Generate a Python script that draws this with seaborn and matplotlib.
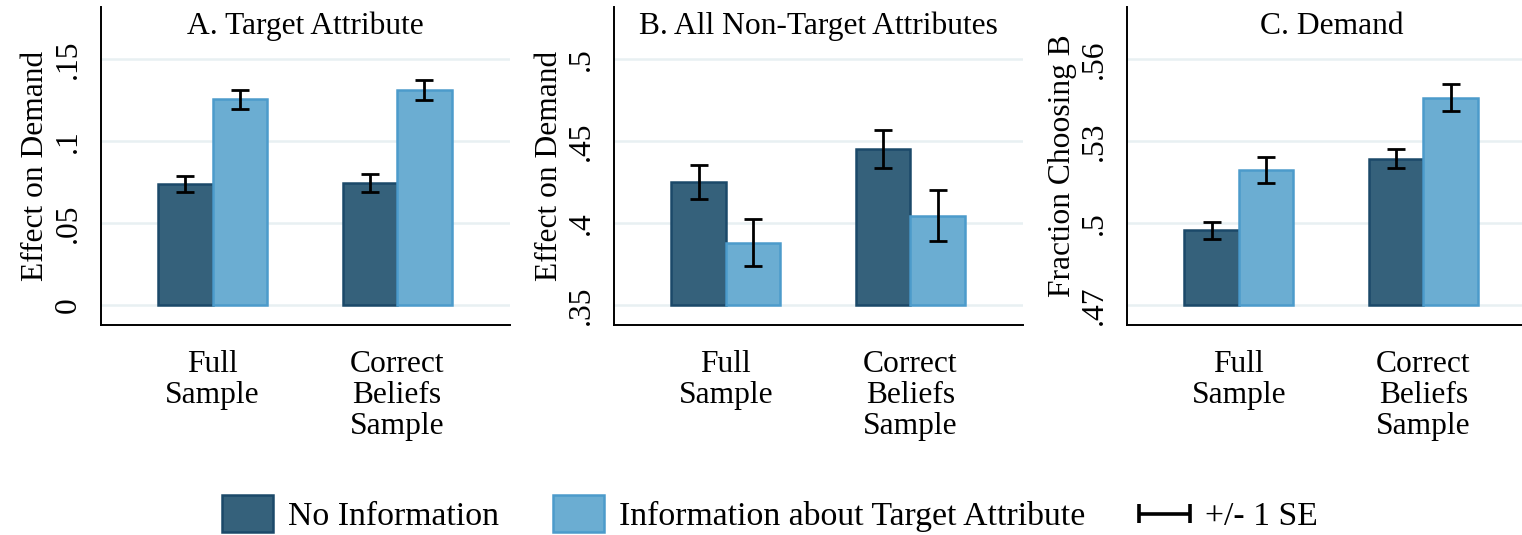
import numpy as np
import pandas as pd
import seaborn as sns
import matplotlib.pyplot as plt
from matplotlib.patches import Patch
from matplotlib.lines import Line2D
from matplotlib.legend_handler import HandlerBase
from matplotlib.ticker import FixedLocator, FixedFormatter

# ---- data -------------------------------------------------------------
samples = ["Full\nSample", "Correct\nBeliefs\nSample"]
groups = ["No Information", "Information about Target Attribute"]

# A. effect of the target attribute on demand
target_no_info = [0.0736, 0.0742]
target_info = [0.1254, 0.1313]
target_no_info_se = [0.0049, 0.0055]
target_info_se = [0.0056, 0.0061]

# B. effect of all non-target attributes on demand
nontarget_no_info = [0.4252, 0.4450]
nontarget_info = [0.3880, 0.4045]
nontarget_no_info_se = [0.0103, 0.0117]
nontarget_info_se = [0.0143, 0.0157]

# C. fraction choosing product B
demand_no_info = [0.4973, 0.5235]
demand_info = [0.5195, 0.5458]
demand_no_info_se = [0.0031, 0.0034]
demand_info_se = [0.0047, 0.0050]

titles = ["A. Target Attribute", "B. All Non-Target Attributes", "C. Demand"]
ylabels = ["Effect on Demand", "Effect on Demand", "Fraction Choosing B"]
ytick_values = [[0, 0.05, 0.1, 0.15], [0.35, 0.4, 0.45, 0.5], [0.47, 0.5, 0.53, 0.56]]
ytick_labels = [["0", ".05", ".1", ".15"], [".35", ".4", ".45", ".5"], [".47", ".5", ".53", ".56"]]

panels = [
    (target_no_info, target_info, target_no_info_se, target_info_se),
    (nontarget_no_info, nontarget_info, nontarget_no_info_se, nontarget_info_se),
    (demand_no_info, demand_info, demand_no_info_se, demand_info_se),
]

# ---- style ------------------------------------------------------------
sns.set_style("white")
plt.rcParams["font.family"] = ["Liberation Serif", "DejaVu Serif"]
plt.rcParams["text.color"] = "black"

DARK, DARK_EDGE = "#35617B", "#1B4969"
LIGHT, LIGHT_EDGE = "#6BADD2", "#4C9BCB"
GRID = "#E8F0F2"
FS = 22.7

W, H = 1522, 535
fig = plt.figure(figsize=(W / 100, H / 100), dpi=100)
fig.patch.set_facecolor("white")

ax_lefts = [101, 614.3, 1127.3]
ax_w, ax_bottom, ax_top = 409, 325, 7
ylims = [(-0.0122, 0.1817), (0.3378, 0.5317), (0.4627, 0.5790)]

for i, (no_info, info, no_se, info_se) in enumerate(panels):
    ax = fig.add_axes([ax_lefts[i] / W, 1 - ax_bottom / H,
                       ax_w / W, (ax_bottom - ax_top) / H])
    df = pd.DataFrame({
        "sample": samples * 2,
        "group": [groups[0]] * 2 + [groups[1]] * 2,
        "value": list(no_info) + list(info),
    })
    sns.barplot(data=df, x="sample", y="value", hue="group",
                order=samples, hue_order=groups, palette=[DARK, LIGHT],
                saturation=1, width=0.59, gap=0, errorbar=None,
                legend=False, linewidth=1.8, ax=ax, zorder=2)

    # bars rise from the lowest labelled tick
    base = ytick_values[i][0]
    for cont, ec, vals, ses in zip(ax.containers, [DARK_EDGE, LIGHT_EDGE],
                                   [no_info, info], [no_se, info_se]):
        xs = []
        for p in cont:
            top = p.get_y() + p.get_height()
            p.set_y(base)
            p.set_height(top - base)
            p.set_edgecolor(ec)
            xs.append(p.get_x() + p.get_width() / 2)
        ax.errorbar(xs, vals, yerr=ses, fmt="none", ecolor="black",
                    elinewidth=2.0, capsize=6.5, capthick=2.0, zorder=5)

    ax.set_xlim(-0.605, 1.612)
    ax.set_ylim(*ylims[i])
    ax.yaxis.set_major_locator(FixedLocator(ytick_values[i]))
    ax.yaxis.set_major_formatter(FixedFormatter(ytick_labels[i]))
    ax.yaxis.grid(True, color=GRID, linewidth=1.8, zorder=0)
    ax.xaxis.grid(False)
    ax.set_axisbelow(True)

    for side in ["top", "right"]:
        ax.spines[side].set_visible(False)
    for side in ["left", "bottom"]:
        ax.spines[side].set_color("black")
        ax.spines[side].set_linewidth(1.4)

    ax.tick_params(axis="both", direction="out", length=9, width=1.1,
                   color="black", labelsize=FS, labelcolor="black")
    ax.tick_params(axis="y", labelrotation=90, pad=4)
    ax.tick_params(axis="x", pad=9)
    for t in ax.get_yticklabels():
        t.set_va("center")
    for t in ax.get_xticklabels():
        t.set_linespacing(1.08)

    ax.set_xlabel("")
    ax.set_ylabel(ylabels[i], fontsize=FS, color="black")
    ax.yaxis.set_label_coords(-0.124, 0.5)
    ax.text(0.5, 0.94, titles[i], transform=ax.transAxes,
            ha="center", va="center", fontsize=FS, color="black")


# ---- legend -----------------------------------------------------------
class SEHandler(HandlerBase):
    def create_artists(self, legend, orig_handle, xdescent, ydescent,
                       width, height, fontsize, trans):
        y = height / 2 - ydescent
        x0, x1 = -xdescent, -xdescent + width
        h = height * 0.26
        kw = dict(color="black", lw=2.6, transform=trans, solid_capstyle="butt")
        return [Line2D([x0, x1], [y, y], **kw),
                Line2D([x0, x0], [y - h, y + h], **kw),
                Line2D([x1, x1], [y - h, y + h], **kw)]


se_handle = Line2D([], [], color="black")
handles = [Patch(facecolor=DARK, edgecolor=DARK_EDGE, linewidth=1.8),
           Patch(facecolor=LIGHT, edgecolor=LIGHT_EDGE, linewidth=1.8),
           se_handle]
labels = groups + ["+/- 1 SE"]
fig.legend(handles, labels, handler_map={se_handle: SEHandler()},
           loc="center", bbox_to_anchor=(0.506, 0.040), ncol=3,
           frameon=False, fontsize=24.3, handlelength=1.5,
           handleheight=1.32, handletextpad=0.45, columnspacing=1.6,
           labelcolor="black")

fig.savefig("out.png", dpi=100, facecolor="white")
